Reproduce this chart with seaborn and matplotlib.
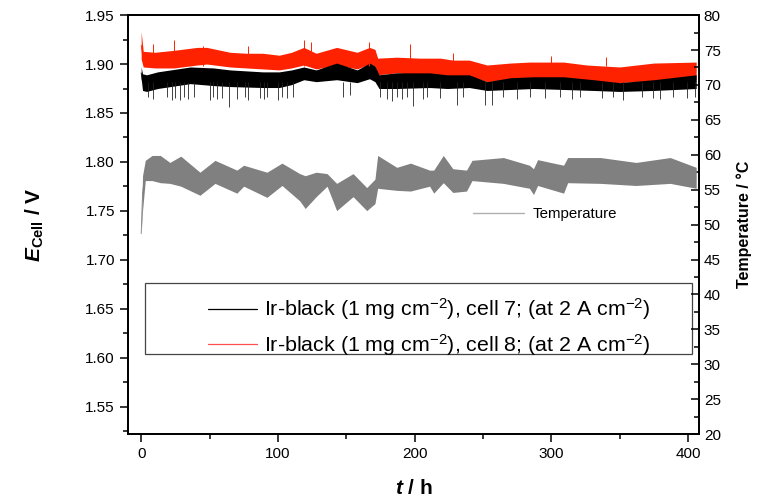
import numpy as np
import pandas as pd
import matplotlib
matplotlib.use("Agg")
import matplotlib.pyplot as plt
from matplotlib.lines import Line2D
from matplotlib.patches import Rectangle
from matplotlib.ticker import MultipleLocator
import seaborn as sns

# -------------------------------
# data (band envelopes, hours)
# -------------------------------
# cell 8 (red), cell potential / V
red_t = [0, 1.5, 10, 24, 41, 48, 65, 77, 89, 101, 110, 119, 128, 143, 158, 167, 171, 173,
         187, 204, 219, 228, 240, 253, 270, 284, 309, 326, 350, 375, 406]
red_hi = [1.933, 1.913, 1.912, 1.914, 1.917, 1.917, 1.912, 1.911, 1.911, 1.909, 1.912, 1.917,
          1.911, 1.917, 1.912, 1.917, 1.915, 1.906, 1.907, 1.906, 1.906, 1.904, 1.904, 1.899,
          1.901, 1.902, 1.902, 1.899, 1.897, 1.901, 1.902]
red_lo = [1.905, 1.897, 1.896, 1.896, 1.899, 1.900, 1.897, 1.896, 1.895, 1.894, 1.896, 1.899,
          1.895, 1.899, 1.895, 1.900, 1.898, 1.889, 1.891, 1.889, 1.889, 1.887, 1.888, 1.882,
          1.884, 1.884, 1.884, 1.882, 1.881, 1.883, 1.884]

# cell 7 (black)
blk_t = [0, 1, 4, 12, 36, 53, 65, 89, 101, 110, 119, 128, 143, 158, 167, 171, 174, 187, 211,
         224, 240, 253, 270, 287, 309, 331, 350, 375, 406]
blk_hi = [1.897, 1.890, 1.889, 1.892, 1.897, 1.896, 1.894, 1.892, 1.892, 1.894, 1.897, 1.894,
          1.901, 1.894, 1.901, 1.898, 1.889, 1.891, 1.891, 1.889, 1.889, 1.882, 1.886, 1.887,
          1.887, 1.884, 1.881, 1.884, 1.889]
blk_lo = [1.885, 1.873, 1.872, 1.875, 1.880, 1.878, 1.877, 1.876, 1.876, 1.879, 1.884, 1.882,
          1.884, 1.881, 1.885, 1.882, 1.875, 1.875, 1.876, 1.875, 1.876, 1.873, 1.874, 1.875,
          1.874, 1.873, 1.872, 1.873, 1.875]

# downward spikes of cell 7
blk_spike_t = [5, 9, 18.7, 22.4, 24.9, 28.5, 31, 34.6, 38.3, 50.5, 52.9, 55.3, 59, 63.9, 70,
               76, 78.5, 87, 89.5, 91.9, 100.4, 102.9, 106.5, 111.4, 148, 152.9, 174.8, 179.7,
               183.3, 187, 190.6, 194.3, 199.2, 206.5, 209, 218.6, 230.8, 235.7, 251.6, 256.5,
               265, 274.8, 284.5, 295.5, 306.4, 315, 321, 336.9, 345.4, 352.7, 366.1, 374.7,
               379.5, 389.3, 399, 405]
blk_spike_v = [1.866, 1.864, 1.866, 1.863, 1.865, 1.863, 1.866, 1.864, 1.866, 1.863, 1.866,
               1.864, 1.865, 1.856, 1.864, 1.866, 1.863, 1.865, 1.864, 1.866, 1.863, 1.866,
               1.865, 1.866, 1.866, 1.868, 1.866, 1.864, 1.862, 1.866, 1.864, 1.866, 1.857,
               1.864, 1.866, 1.865, 1.858, 1.866, 1.858, 1.858, 1.866, 1.864, 1.866, 1.865,
               1.866, 1.864, 1.866, 1.865, 1.866, 1.863, 1.866, 1.865, 1.864, 1.866, 1.865,
               1.866]
blk_floor = 1.882

# upward spikes of cell 8
red_spike_t = [9, 24, 45, 78, 119, 124, 167, 197, 228, 300, 340]
red_spike_v = [1.920, 1.925, 1.918, 1.918, 1.925, 1.923, 1.923, 1.920, 1.911, 1.908, 1.907]
red_base = 1.898

# temperature / °C
tmp_t = [0, 1, 3, 8, 14, 21, 29, 43, 54, 70, 75, 92, 103, 116, 120, 128, 136, 143, 155, 165,
         171, 173, 187, 197, 211, 214, 221, 228, 238, 242, 265, 284, 287, 290, 309, 312, 336,
         362, 387, 406]
tmp_hi = [48.7, 57.0, 59.2, 59.9, 59.9, 58.9, 59.8, 57.5, 59.2, 57.8, 58.5, 57.5, 58.8, 57.3,
          57.0, 57.5, 57.3, 55.9, 57.3, 55.3, 56.5, 59.9, 58.2, 58.8, 57.8, 57.8, 59.9, 58.0,
          57.8, 59.2, 59.6, 58.5, 58.0, 59.3, 58.5, 59.6, 59.6, 58.9, 59.6, 58.2]
tmp_lo = [48.7, 52.0, 56.3, 56.3, 56.0, 55.9, 55.5, 54.2, 55.9, 54.5, 55.5, 53.9, 55.6, 53.4,
          52.3, 54.0, 55.5, 52.0, 54.0, 52.0, 53.0, 55.2, 54.9, 54.8, 55.5, 54.5, 56.0, 54.6,
          54.8, 56.3, 55.9, 55.2, 54.3, 55.6, 54.5, 56.0, 55.9, 55.6, 55.9, 55.2]

labels = ["Ir-black (1 mg cm$^{-2}$), cell 7; (at 2 A cm$^{-2}$)",
          "Ir-black (1 mg cm$^{-2}$), cell 8; (at 2 A cm$^{-2}$)"]


def band(t, hi, lo):
    # long form: two rows per time, seaborn draws the min-max band
    return pd.DataFrame({"t": list(t) + list(t), "v": list(hi) + list(lo)})


sns.set_theme(style="ticks")
plt.rcParams["font.family"] = ["Liberation Sans", "DejaVu Sans"]
plt.rcParams["mathtext.fontset"] = "custom"
plt.rcParams["mathtext.rm"] = "Liberation Sans"
plt.rcParams["mathtext.it"] = "Liberation Sans:italic"
plt.rcParams["mathtext.bf"] = "Liberation Sans:bold"
plt.rcParams["mathtext.bfit"] = "Liberation Sans:italic:bold"
plt.rcParams["text.color"] = "black"
plt.rcParams["axes.labelcolor"] = "black"
plt.rcParams["xtick.color"] = "black"
plt.rcParams["ytick.color"] = "black"

fig = plt.figure(figsize=(7.63, 5.03), dpi=100)
ax = fig.add_axes([0.168, 0.137, 0.748, 0.833])
ax2 = ax.twinx()

band_kws = dict(errorbar=("pi", 100), estimator="mean", linewidth=0.6,
                err_kws={"alpha": 1, "linewidth": 0})

sns.lineplot(data=band(red_t, red_hi, red_lo), x="t", y="v", color="#ff2200", ax=ax, **band_kws)
ax.vlines(red_spike_t, red_base, red_spike_v, color="#ff2200", lw=0.7)
sns.lineplot(data=band(blk_t, blk_hi, blk_lo), x="t", y="v", color="black", ax=ax, **band_kws)
ax.vlines(blk_spike_t, blk_spike_v, blk_floor, color="#222222", lw=0.6)

sns.lineplot(data=band(tmp_t, tmp_hi, tmp_lo), x="t", y="v", color="#808080", ax=ax2, **band_kws)

# axes ranges and ticks
ax.set_xlim(-9.5, 408)
ax.set_ylim(1.522, 1.95)
ax2.set_ylim(20, 80)
ax.xaxis.set_major_locator(MultipleLocator(100))
ax.xaxis.set_minor_locator(MultipleLocator(50))
ax.yaxis.set_major_locator(MultipleLocator(0.05))
ax.yaxis.set_minor_locator(MultipleLocator(0.025))
ax2.yaxis.set_major_locator(MultipleLocator(5))
ax2.yaxis.set_minor_locator(MultipleLocator(2.5))

ax.tick_params(which="major", direction="out", length=6, width=1.1, labelsize=11, color="black")
ax.tick_params(which="minor", direction="out", length=3.5, width=1.1, color="black")
ax2.tick_params(which="major", direction="in", length=6, width=1.1, labelsize=11, color="black")
ax2.tick_params(which="minor", direction="in", length=3.5, width=1.1, color="black")
for a in (ax, ax2):
    for s in a.spines.values():
        s.set_visible(True)
        s.set_color("black")
        s.set_linewidth(1.3)

ax.set_xlabel(r"$\mathbfit{t}$ / h", fontsize=15, fontweight="bold", labelpad=13)
ax.set_ylabel(r"$\mathbfit{E}_{\mathbf{Cell}}$ / V", fontsize=15, fontweight="bold", labelpad=28)
ax2.set_ylabel("Temperature / °C", fontsize=11.5, fontweight="bold", labelpad=11)

# legends
ax.add_patch(Rectangle((0.03, 0.192), 0.958, 0.168, transform=ax.transAxes,
                       fill=False, lw=0.9, ec="#444444", zorder=5))
cell_handles = [Line2D([], [], color="black", lw=0.9), Line2D([], [], color="#ff5050", lw=0.9)]
ax.legend(cell_handles, labels, loc="center left", bbox_to_anchor=(0.14, 0.255),
          frameon=False, fontsize=15.4, handlelength=2.3, handletextpad=0.3,
          labelspacing=0.45, borderaxespad=0, borderpad=0)
ax2.legend([Line2D([], [], color="#b0b0b0", lw=1)], ["Temperature"], loc="center left",
           bbox_to_anchor=(0.604, 0.525), frameon=False, fontsize=10.8,
           handlelength=3.4, handletextpad=0.6, borderaxespad=0, borderpad=0)

fig.savefig("out.png", dpi=100)
